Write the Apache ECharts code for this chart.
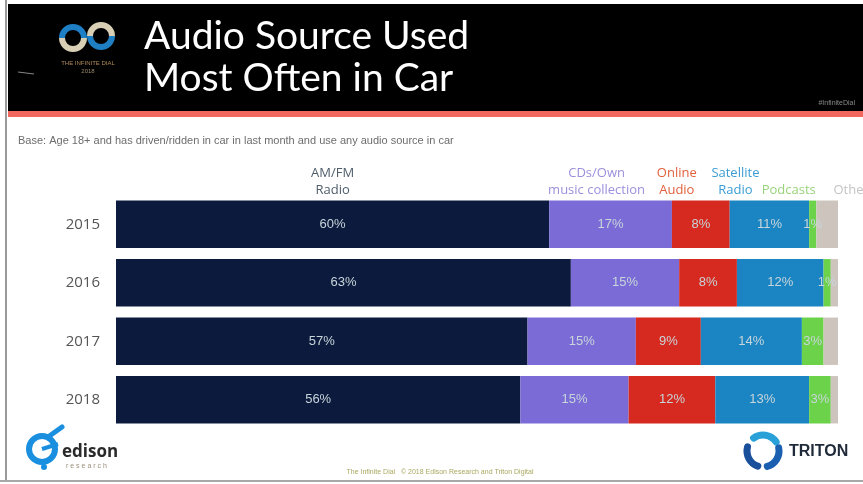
<!DOCTYPE html>
<html>
<head>
<meta charset="utf-8">
<script src="https://cdn.jsdelivr.net/npm/echarts@6/dist/echarts.min.js"></script>
<style>
  html, body { margin: 0; padding: 0; background: #ffffff; }
  #chart { width: 863px; height: 484px; }
</style>
</head>
<body>
<div id="chart"></div>
<script>
// Survey years (rows, top to bottom)
const years = ['2015', '2016', '2017', '2018'];

// Share of respondents (%) naming each source as the one used most often in the car
const amfmRadio   = [60, 63, 57, 56];
const cdsOwn      = [17, 15, 15, 15];
const onlineAudio = [8, 8, 9, 12];
const satellite   = [11, 12, 14, 13];
const podcasts    = [1, 1, 3, 3];
const other       = [3, 1, 2, 1];

// Category headings drawn above the bars
const sourceNames = ['AM/FM\nRadio', 'CDs/Own\nmusic collection', 'Online\nAudio', 'Satellite\nRadio', 'Podcasts', 'Other'];

const seriesValues = [amfmRadio, cdsOwn, onlineAudio, satellite, podcasts, other];
const colors = ['#0c1a3d', '#7a6bd6', '#d6291f', '#1a85c2', '#6cd24a', '#cdc5bd'];
const headingColors = ['#4f5d6b', '#9c8fdc', '#e2603c', '#3c9dd3', '#98d47a', '#c4c4c4'];
const headingShift = [0, -14, -24, -34, -24, 24];
const showValue = [true, true, true, true, true, false];

const chart = echarts.init(document.getElementById('chart'), null, { renderer: 'canvas' });

const series = seriesValues.map((vals, i) => ({
  name: sourceNames[i].replace('\n', ' '),
  type: 'bar',
  stack: 'total',
  data: vals,
  barCategoryGap: '19%',
  itemStyle: { color: colors[i] },
  label: {
    show: showValue[i],
    position: 'inside',
    formatter: '{c}%',
    color: '#c8d5da',
    fontFamily: 'Liberation Sans Narrow, Liberation Sans, sans-serif',
    fontSize: 13
  },
  emphasis: { disabled: true }
}));

const titleFont = '39px Lato, "Open Sans", sans-serif';

// Static slide decoration: header band, stripe, frame, footers, logos
const decor = [
  { type: 'rect', shape: { x: 0, y: 0, width: 863, height: 484 }, style: { fill: '#ffffff' }, z: -10 },
  { type: 'rect', shape: { x: 8, y: 4, width: 855, height: 107 }, style: { fill: '#000000' } },
  { type: 'rect', shape: { x: 8, y: 111, width: 855, height: 6 }, style: { fill: '#f2675e' } },
  { type: 'rect', shape: { x: 5, y: 0, width: 2, height: 482 }, style: { fill: '#9a9a9a' } },
  { type: 'rect', shape: { x: 0, y: 480, width: 863, height: 2 }, style: { fill: '#a8a8a8' } },
  { type: 'text', x: 144, y: 36, style: { text: 'Audio Source Used', fill: '#ffffff', font: titleFont, textVerticalAlign: 'middle' } },
  { type: 'text', x: 144, y: 78, style: { text: 'Most Often in Car', fill: '#ffffff', font: titleFont, textVerticalAlign: 'middle' } },
  { type: 'text', x: 855, y: 103, style: { text: '#InfiniteDial', fill: '#8a8a8a', font: '7px "Liberation Sans", sans-serif', textAlign: 'right', textVerticalAlign: 'middle' } },
  // Infinite Dial mark
  { type: 'arc', shape: { cx: 73, cy: 38, r: 11, startAngle: Math.PI, endAngle: 2 * Math.PI }, style: { stroke: '#1e7fc4', lineWidth: 6, fill: null } },
  { type: 'arc', shape: { cx: 73, cy: 38, r: 11, startAngle: 0, endAngle: Math.PI }, style: { stroke: '#d8cfb4', lineWidth: 6, fill: null } },
  { type: 'arc', shape: { cx: 101, cy: 36, r: 11, startAngle: Math.PI, endAngle: 2 * Math.PI }, style: { stroke: '#d8cfb4', lineWidth: 6, fill: null } },
  { type: 'arc', shape: { cx: 101, cy: 36, r: 11, startAngle: 0, endAngle: Math.PI }, style: { stroke: '#1e7fc4', lineWidth: 6, fill: null } },
  { type: 'text', x: 88, y: 63, style: { text: 'THE INFINITE DIAL', fill: '#b08a5a', font: '6px "Liberation Sans", sans-serif', textAlign: 'center', textVerticalAlign: 'middle' } },
  { type: 'text', x: 88, y: 71, style: { text: '2018', fill: '#9a8a70', font: '6px "Liberation Sans", sans-serif', textAlign: 'center', textVerticalAlign: 'middle' } },
  { type: 'line', shape: { x1: 18, y1: 72, x2: 34, y2: 74 }, style: { stroke: '#888888', lineWidth: 1 } },
  // Base note
  { type: 'text', x: 18, y: 141, style: { text: 'Base: Age 18+ and has driven/ridden in car in last month and use any audio source in car', fill: '#6d6d6d', font: '11px "Liberation Sans", sans-serif', textVerticalAlign: 'middle' } },
  // Footer
  { type: 'text', x: 440, y: 472, style: { text: 'The Infinite Dial   \u00a9 2018 Edison Research and Triton Digital', fill: '#a9a860', font: '7px "Liberation Sans", sans-serif', textAlign: 'center', textVerticalAlign: 'middle' } },
  // Edison Research mark
  { type: 'circle', shape: { cx: 42, cy: 449, r: 13 }, style: { fill: null, stroke: '#1a8fe0', lineWidth: 6 } },
  { type: 'line', shape: { x1: 42, y1: 449, x2: 58, y2: 444 }, style: { stroke: '#1a8fe0', lineWidth: 4 } },
  { type: 'line', shape: { x1: 48, y1: 437, x2: 62, y2: 427 }, style: { stroke: '#1a8fe0', lineWidth: 5, lineCap: 'round' } },
  { type: 'circle', shape: { cx: 44, cy: 467, r: 3 }, style: { fill: '#1a8fe0' } },
  { type: 'text', x: 62, y: 452, style: { text: 'edison', fill: '#2a2a2a', font: 'bold 17px "Open Sans", sans-serif', textVerticalAlign: 'middle' } },
  { type: 'text', x: 66, y: 466, style: { text: 'r e s e a r c h', fill: '#9b8f7a', font: '7px "Liberation Sans", sans-serif', textVerticalAlign: 'middle' } },
  // Triton mark
  { type: 'arc', shape: { cx: 763, cy: 451, r: 16, startAngle: -2.2, endAngle: -0.6 }, style: { stroke: '#2aa0d8', lineWidth: 7, fill: null, lineCap: 'round' } },
  { type: 'arc', shape: { cx: 763, cy: 451, r: 16, startAngle: -0.2, endAngle: 1.3 }, style: { stroke: '#1a5fb0', lineWidth: 7, fill: null, lineCap: 'round' } },
  { type: 'arc', shape: { cx: 763, cy: 451, r: 16, startAngle: 1.9, endAngle: 3.4 }, style: { stroke: '#1a4f9c', lineWidth: 7, fill: null, lineCap: 'round' } },
  { type: 'text', x: 789, y: 452, style: { text: 'TRITON', fill: '#1f2a3a', font: 'bold 16px "Liberation Sans Narrow", "Liberation Sans", sans-serif', textVerticalAlign: 'middle' } }
];

chart.setOption({
  animation: false,
  backgroundColor: '#ffffff',
  grid: { left: 116, right: 25, top: 195, height: 234, containLabel: false },
  xAxis: { type: 'value', min: 0, max: 100, show: false },
  yAxis: {
    type: 'category',
    data: years,
    inverse: true,
    axisLine: { show: false },
    axisTick: { show: false },
    axisLabel: { color: '#555555', fontSize: 15, margin: 16, fontFamily: '"Open Sans", sans-serif' }
  },
  series: series,
  graphic: decor
});

// Place the category headings above the first row, centred on each segment
const headings = [];
let running = 0;
seriesValues.forEach((vals, i) => {
  const mid = running + vals[0] / 2;
  running += vals[0];
  const px = chart.convertToPixel({ gridIndex: 0 }, [mid, years[0]]);
  headings.push({
    type: 'text',
    x: px[0] + headingShift[i],
    y: 199,
    style: {
      text: sourceNames[i],
      fill: headingColors[i],
      font: '13px "Open Sans", sans-serif',
      lineHeight: 17,
      textAlign: 'center',
      textVerticalAlign: 'bottom'
    }
  });
});
chart.setOption({ graphic: decor.concat(headings) });
</script>
</body>
</html>
